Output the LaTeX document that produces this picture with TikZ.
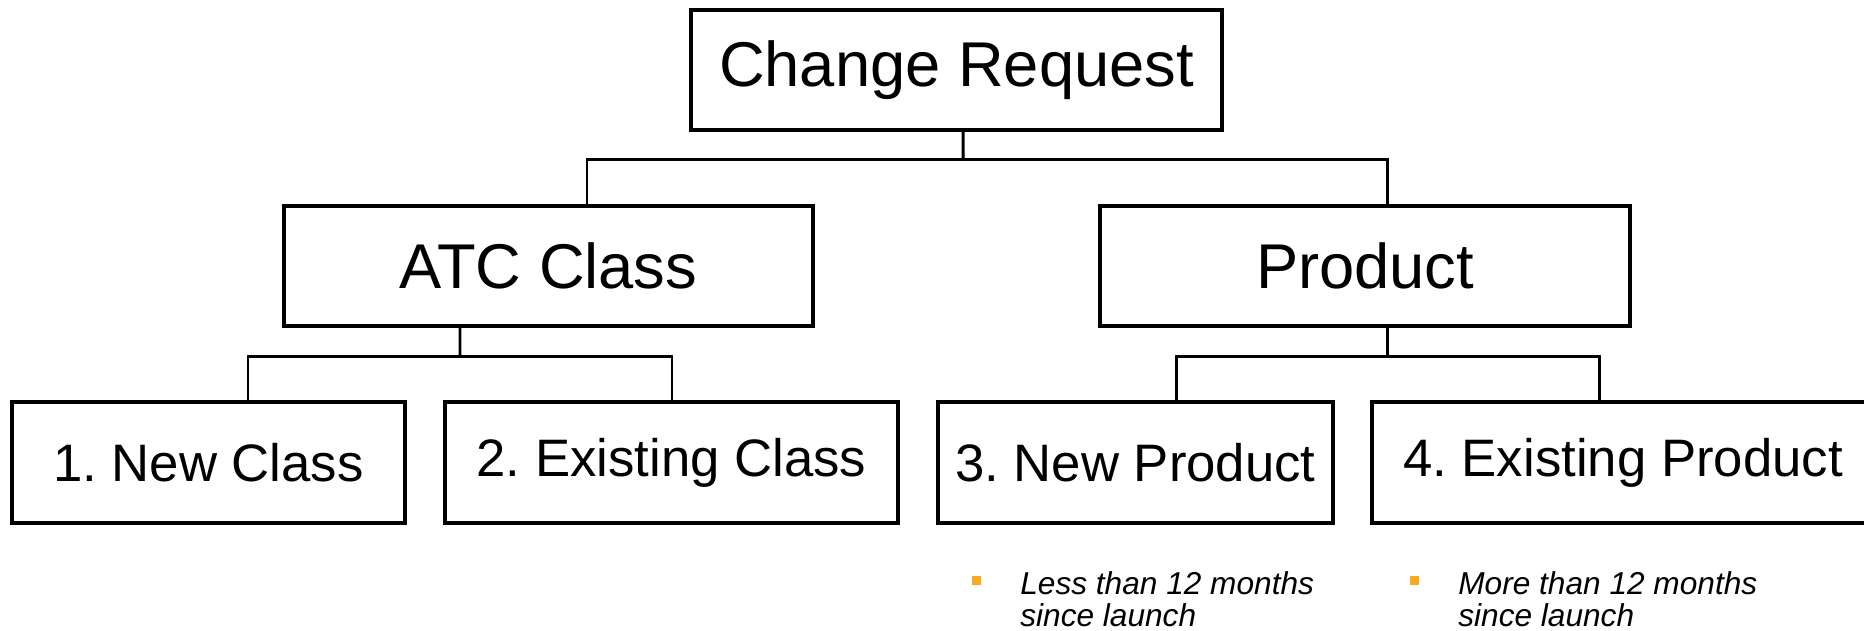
\documentclass[tikz,border=0pt]{standalone}
\usepackage{fontspec}
\setmainfont{Liberation Sans}
\usepackage{tikz}
\usetikzlibrary{positioning}
\usepackage{xcolor}
\definecolor{linedark}{RGB}{0, 0, 0}
\definecolor{bulletorange}{RGB}{250, 170, 30}
\frenchspacing

\begin{document}
\begin{tikzpicture}[
    box/.style={rectangle, draw=linedark, fill=white, line width=1.8pt, inner sep=0pt, minimum height=2.4cm, align=center, font=\fontsize{36}{40}\selectfont},
    leaf/.style={box, minimum height=2.42cm, font=\fontsize{30}{34}\selectfont},
    link/.style={line width=1.7pt, color=linedark, line join=miter},
    bullet/.style={rectangle, fill=bulletorange, inner sep=0pt, minimum size=0.18cm},
    note/.style={anchor=north west, inner sep=0pt, align=left, font=\fontsize{18}{18.5}\selectfont\itshape},
]
\useasboundingbox (0, 0) rectangle (37.28, -12.6);

% Top
\node[box, minimum width=10.62cm] (request) at (19.13, -1.40) {Change Request};

% Second level
\node[box, minimum width=10.58cm] (atc) at (10.97, -5.32) {ATC Class};
\node[box, minimum width=10.6cm] (product) at (27.30, -5.32) {Product};

% Third level
\node[leaf, minimum width=7.86cm] (newclass) at (4.17, -9.25) {1. New Class};
\node[leaf, minimum width=9.06cm] (existclass) at (13.43, -9.25) {2. Existing Class};
\node[leaf, minimum width=7.9cm] (newprod) at (22.71, -9.25) {3. New Product};
\node[leaf, minimum width=10.04cm] (existprod) at (32.46, -9.25) {4. Existing Product};

% Bars
\coordinate (bartop) at (19.26, -3.18);
\coordinate (baratc) at (9.20, -7.12);
\coordinate (barprod) at (27.74, -7.12);

% Links
\draw[link] ([xshift=0.13cm]request.south) -- (bartop);
\draw[link] ([xshift=0.77cm]atc.north) |- (bartop) -| ([xshift=0.44cm]product.north);
\draw[link] ([xshift=-1.77cm]atc.south) -- (baratc);
\draw[link] ([xshift=0.79cm]newclass.north) |- (baratc) -| ([xshift=0.01cm]existclass.north);
\draw[link] ([xshift=0.44cm]product.south) -- (barprod);
\draw[link] ([xshift=0.81cm]newprod.north) |- (barprod) -| ([xshift=-0.47cm]existprod.north);

% Notes
\node[bullet] (bulletnew) at (19.53, -11.60) {};
\node[note] (notenew) at (20.40, -11.42) {Less than 12 months\\since launch};
\node[bullet] (bulletexist) at (28.29, -11.60) {};
\node[note] (noteexist) at (29.16, -11.42) {More than 12 months\\since launch};

\end{tikzpicture}
\end{document}
